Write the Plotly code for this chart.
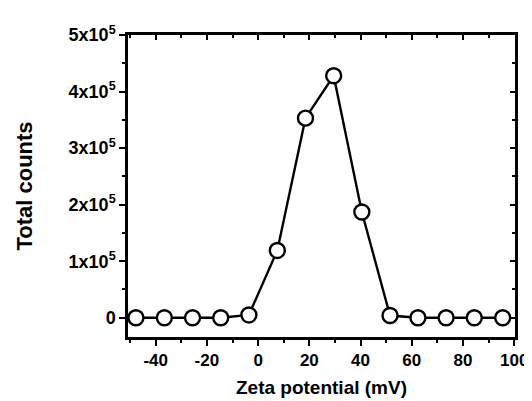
import plotly.graph_objects as go

zeta_mv = [-47.7, -36.6, -25.6, -14.6, -3.6, 7.5, 18.5, 29.5, 40.5, 51.5, 62.4, 73.4, 84.4, 95.5]
total_counts = [0, 0, 0, 0, 5000, 119000, 353000, 428000, 187000, 4000, 0, 0, 0, 0]

y_tickvals = [0, 100000, 200000, 300000, 400000, 500000]
y_ticktext = ["0", "1x10", "2x10", "3x10", "4x10", "5x10"]
x_tickvals = [-40, -20, 0, 20, 40, 60, 80, 100]
x_ticktext = ["-40", "-20", "0", "20", "40", "60", "80", "100"]

FONT = "Arial, Liberation Sans, sans-serif"
xr = [-50.8, 100.3]
yr = [-34000, 500000]

fig = go.Figure()
fig.add_trace(go.Scatter(
    x=zeta_mv, y=total_counts, mode="lines+markers",
    line=dict(color="black", width=2.4),
    marker=dict(symbol="circle", size=15, color="white", line=dict(color="black", width=2.4)),
    showlegend=False, hoverinfo="skip",
))
# invisible trace to host top/right inside-tick axes
fig.add_trace(go.Scatter(x=zeta_mv, y=total_counts, xaxis="x2", yaxis="y2",
                         mode="markers", marker=dict(opacity=0), showlegend=False, hoverinfo="skip"))

xtickfont = dict(size=17, family=FONT, weight=700, color="black")
ytickfont = dict(size=18, family=FONT, weight=700, color="black")

fig.update_layout(
    width=532, height=401,
    margin=dict(l=120, r=18, t=27, b=72),
    paper_bgcolor="white", plot_bgcolor="white",
    font=dict(family=FONT, color="black", size=16),
    xaxis=dict(
        range=xr, tickvals=x_tickvals, ticktext=["<b>%s</b>" % t for t in x_ticktext],
        ticks="outside", ticklen=6, tickwidth=2, tickcolor="black",
        minor=dict(dtick=10, tick0=0, ticks="outside", ticklen=3, tickwidth=2, tickcolor="black"),
        showline=True, linewidth=2.5, linecolor="black", showgrid=False, zeroline=False,
        tickfont=xtickfont,
        title=dict(text="<b>Zeta potential (mV)</b>", font=dict(size=19, family=FONT), standoff=12),
    ),
    yaxis=dict(
        range=yr, tickvals=y_tickvals,
        ticktext=["<b>%s</b>" % t if t == "0" else "<b>%s<sup>5</sup></b>" % t for t in y_ticktext],
        ticks="outside", ticklen=6, tickwidth=2, tickcolor="black",
        minor=dict(dtick=50000, tick0=0, ticks="outside", ticklen=3, tickwidth=2, tickcolor="black"),
        showline=True, linewidth=2.5, linecolor="black", showgrid=False, zeroline=False,
        tickfont=ytickfont,
        title=dict(text="<b>Total counts</b>", font=dict(size=22, family=FONT), standoff=30),
    ),
    xaxis2=dict(
        range=xr, overlaying="x", side="top", tickvals=x_tickvals, showticklabels=False,
        ticks="inside", ticklen=5, tickwidth=2, tickcolor="black",
        minor=dict(dtick=10, tick0=0, ticks="inside", ticklen=3, tickwidth=2, tickcolor="black"),
        showline=True, linewidth=2.5, linecolor="black", showgrid=False, zeroline=False,
    ),
    yaxis2=dict(
        range=yr, overlaying="y", side="right", tickvals=y_tickvals, showticklabels=False,
        ticks="inside", ticklen=5, tickwidth=2, tickcolor="black",
        minor=dict(dtick=50000, tick0=0, ticks="inside", ticklen=3, tickwidth=2, tickcolor="black"),
        showline=True, linewidth=2.5, linecolor="black", showgrid=False, zeroline=False,
    ),
)

fig.write_html("out.html")
